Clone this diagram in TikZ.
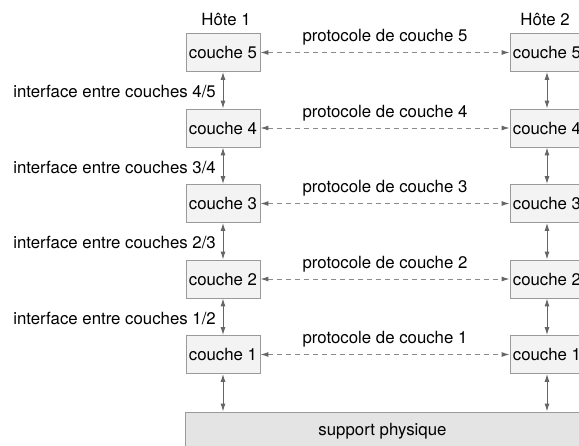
\documentclass[tikz,border=0pt]{standalone}
\usepackage{fontspec}
\setmainfont{TeX Gyre Heros}
\usetikzlibrary{arrows.meta}
\definecolor{boxline}{HTML}{9A9A9A}
\definecolor{boxfill}{HTML}{F3F3F3}
\definecolor{basefill}{HTML}{E4E4E4}
\definecolor{arrowgray}{HTML}{666666}
\definecolor{dashgray}{HTML}{8A8A8A}
\begin{document}
\begin{tikzpicture}[x=1pt,y=-1pt,
  every node/.style={font=\fontsize{16.8}{18}\selectfont, text=black},
  layerbox/.style={draw=boxline, fill=boxfill, line width=0.8pt,
    minimum width=74pt, minimum height=38pt, inner sep=0pt},
  basebox/.style={draw=boxline, fill=basefill, line width=0.8pt,
    minimum width=395pt, minimum height=38pt, inner sep=0pt},
  iface/.style={draw=arrowgray, line width=1pt,
    {Latex[length=8pt,width=5pt]}-{Latex[length=8pt,width=5pt]}},
  proto/.style={draw=dashgray, line width=1pt, dash pattern=on 5pt off 4pt,
    {Latex[length=8pt,width=5pt,color=arrowgray]}-{Latex[length=8pt,width=5pt,color=arrowgray]}},
  lbl/.style={inner sep=0pt}]
\useasboundingbox (0,0) rectangle (579,445);
\clip (0,0) rectangle (579,445);

% host titles
\node[lbl] (h1) at (226,19) {Hôte 1};
\node[lbl] (h2) at (545,19) {Hôte 2};

% protocol layers of both hosts
\foreach \n/\y in {5/52.5,4/128,3/203.5,2/279,1/354.5}{
  \node[layerbox] (L\n) at (223,\y) {couche \n};
  \node[layerbox] (R\n) at (547,\y) {couche \n};
}

% physical medium
\node[basebox] (S) at (382.5,431) {support physique};

% peer protocols
\foreach \n in {5,4,3,2,1}{
  \draw[proto] (L\n.east) -- (R\n.west)
    node[lbl, midway, yshift=15pt] (p\n) {protocole de couche \n};
}

% interfaces between adjacent layers
\foreach \a/\b in {5/4,4/3,3/2,2/1}{
  \draw[iface] (L\a.south) -- (L\b.north);
  \draw[iface] (R\a.south) -- (R\b.north);
}
\draw[iface] (L1.south) -- (L1.south |- S.north);
\draw[iface] (R1.south) -- (R1.south |- S.north);

% interface labels
\node[lbl, anchor=east] (i45) at (216,92) {interface entre couches 4/5};
\node[lbl, anchor=east] (i34) at (216,167.5) {interface entre couches 3/4};
\node[lbl, anchor=east] (i23) at (216,243) {interface entre couches 2/3};
\node[lbl, anchor=east] (i12) at (216,318.5) {interface entre couches 1/2};
\end{tikzpicture}
\end{document}
